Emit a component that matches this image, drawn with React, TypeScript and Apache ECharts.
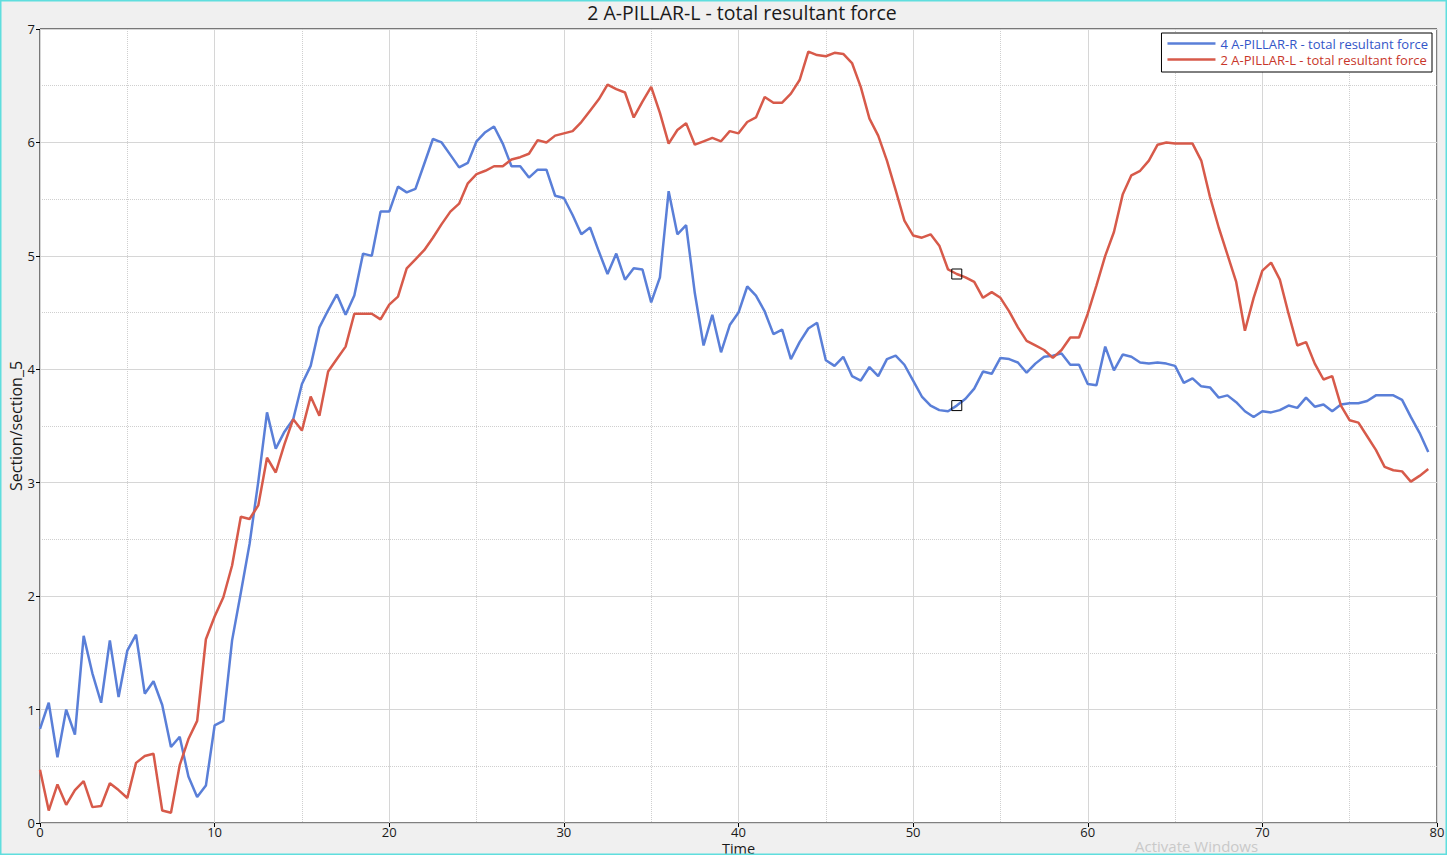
import React, { useEffect, useRef } from "react";
import * as echarts from "echarts";

const TITLE = "2 A-PILLAR-L - total resultant force";
const X_NAME = "Time";
const Y_NAME = "Section/section_5";
const SERIES_NAMES = ["4 A-PILLAR-R - total resultant force", "2 A-PILLAR-L - total resultant force"];
const TIME_STEP = 0.5;
const MARK_TIME = 52.5;
const WATERMARK = "Activate Windows";

const blueValues = [
  0.83, 1.06, 0.58, 1.0, 0.78, 1.65, 1.32, 1.06, 1.61, 1.11,
  1.52, 1.66, 1.14, 1.25, 1.04, 0.67, 0.76, 0.41, 0.23, 0.33,
  0.86, 0.9, 1.61, 2.03, 2.46, 3.01, 3.62, 3.3, 3.45, 3.56,
  3.87, 4.03, 4.37, 4.52, 4.66, 4.48, 4.65, 5.02, 5.0, 5.39,
  5.39, 5.61, 5.56, 5.59, 5.81, 6.03, 6.0, 5.89, 5.78, 5.82,
  6.01, 6.09, 6.14, 5.99, 5.79, 5.79, 5.69, 5.76, 5.76, 5.53,
  5.51, 5.36, 5.19, 5.25, 5.04, 4.84, 5.02, 4.79, 4.89, 4.88,
  4.59, 4.81, 5.57, 5.19, 5.27, 4.67, 4.21, 4.48, 4.15, 4.39,
  4.5, 4.73, 4.65, 4.51, 4.31, 4.35, 4.09, 4.24, 4.36, 4.41,
  4.08, 4.03, 4.11, 3.94, 3.9, 4.02, 3.94, 4.09, 4.12, 4.04,
  3.9, 3.76, 3.68, 3.64, 3.63, 3.68, 3.74, 3.83, 3.98, 3.96,
  4.1, 4.09, 4.06, 3.97, 4.05, 4.11, 4.12, 4.14, 4.04, 4.04,
  3.87, 3.86, 4.2, 3.99, 4.13, 4.11, 4.06, 4.05, 4.06, 4.05,
  4.03, 3.88, 3.92, 3.85, 3.84, 3.75, 3.77, 3.71, 3.63, 3.58,
  3.63, 3.62, 3.64, 3.68, 3.66, 3.75, 3.67, 3.69, 3.63, 3.69,
  3.7, 3.7, 3.72, 3.77, 3.77, 3.77, 3.73, 3.58, 3.44, 3.27,
];

const redValues = [
  0.47, 0.11, 0.34, 0.16, 0.29, 0.37, 0.14, 0.15, 0.35, 0.29,
  0.22, 0.53, 0.59, 0.61, 0.11, 0.09, 0.51, 0.74, 0.9, 1.62,
  1.82, 1.99, 2.27, 2.7, 2.68, 2.8, 3.22, 3.09, 3.34, 3.56,
  3.46, 3.76, 3.59, 3.98, 4.09, 4.2, 4.49, 4.49, 4.49, 4.44,
  4.57, 4.64, 4.89, 4.97, 5.05, 5.16, 5.28, 5.39, 5.46, 5.64,
  5.72, 5.75, 5.79, 5.79, 5.85, 5.87, 5.9, 6.02, 6.0, 6.06,
  6.08, 6.1, 6.18, 6.28, 6.38, 6.51, 6.47, 6.44, 6.22, 6.36,
  6.49, 6.26, 5.99, 6.11, 6.17, 5.98, 6.01, 6.04, 6.01, 6.1,
  6.08, 6.18, 6.22, 6.4, 6.35, 6.35, 6.43, 6.55, 6.8, 6.77,
  6.76, 6.79, 6.78, 6.7, 6.49, 6.21, 6.06, 5.84, 5.58, 5.31,
  5.18, 5.16, 5.19, 5.09, 4.88, 4.84, 4.81, 4.77, 4.63, 4.68,
  4.63, 4.51, 4.37, 4.25, 4.21, 4.17, 4.1, 4.17, 4.28, 4.28,
  4.49, 4.74, 5.0, 5.21, 5.54, 5.71, 5.75, 5.84, 5.98, 6.0,
  5.99, 5.99, 5.99, 5.84, 5.52, 5.25, 5.01, 4.77, 4.34, 4.63,
  4.87, 4.94, 4.79, 4.49, 4.21, 4.24, 4.05, 3.91, 3.94, 3.68,
  3.55, 3.53, 3.41, 3.29, 3.14, 3.11, 3.1, 3.01, 3.06, 3.12,
];

const LINE_COLORS = ["#5a7fd8", "#d75a4a"];
const TEXT_COLORS = ["#3356c8", "#c8362a"];
const FONT = "'Open Sans', 'Noto Sans', sans-serif";

function toPairs(vals: number[]) {
  return vals.map((v, i) => [i * TIME_STEP, v]);
}

function markFor(vals: number[]) {
  const idx = Math.round(MARK_TIME / TIME_STEP);
  return {
    symbol: "rect",
    symbolSize: 10,
    silent: true,
    label: { show: false },
    itemStyle: { color: "rgba(0,0,0,0)", borderColor: "#000", borderWidth: 1 },
    data: [{ coord: [idx * TIME_STEP, vals[idx]] }],
  };
}

export default function App() {
  const ref = useRef<HTMLDivElement>(null);
  useEffect(() => {
    if (!ref.current) return;
    const chart = echarts.init(ref.current, null, { renderer: "svg" });
    const allVals = [blueValues, redValues];
    chart.setOption({
      animation: false,
      backgroundColor: "#f0f0f0",
      textStyle: { fontFamily: FONT },
      title: {
        text: TITLE,
        left: 737,
        top: -3,
        textAlign: "center",
        textStyle: { fontSize: 19.5, fontWeight: "normal", color: "#1a1a1a", fontFamily: FONT },
      },
      grid: {
        left: 40,
        top: 29,
        right: 10,
        bottom: 32,
        outerBoundsMode: "none",
        containLabel: false,
        show: true,
        backgroundColor: "#ffffff",
        borderColor: "#000000",
        borderWidth: 1,
      },
      legend: {
        orient: "vertical",
        right: 15,
        top: 33,
        backgroundColor: "#ffffff",
        borderColor: "#000000",
        borderWidth: 1,
        padding: [4, 4, 6, 6],
        itemGap: 3,
        itemWidth: 48,
        itemHeight: 2.5,
        icon: "rect",
        textStyle: { fontSize: 13, fontFamily: FONT, padding: [0, 0, 0, 0] },
        data: SERIES_NAMES.map((n, i) => ({ name: n, textStyle: { color: TEXT_COLORS[i] } })),
      },
      xAxis: {
        type: "value",
        min: 0,
        max: 80,
        interval: 10,
        name: X_NAME,
        nameLocation: "middle",
        nameGap: 19,
        nameMoveOverlap: false,
        nameTextStyle: { fontSize: 14.5, lineHeight: 13, color: "#1a1a1a", fontFamily: FONT, verticalAlign: "top" },
        axisLine: { show: false },
        axisTick: { show: true, length: 4, lineStyle: { color: "#000" } },
        axisLabel: { fontSize: 13, lineHeight: 12, color: "#1a1a1a", margin: 3, fontFamily: FONT },
        splitLine: { show: true, lineStyle: { color: "#d6d6d6", width: 1 } },
        minorTick: { show: false, splitNumber: 2 },
        minorSplitLine: { show: true, lineStyle: { color: "#cfcfcf", type: "dotted", width: 1 } },
      },
      yAxis: {
        type: "value",
        min: 0,
        max: 7,
        interval: 1,
        name: Y_NAME,
        nameLocation: "middle",
        nameRotate: 90,
        nameGap: 16,
        nameMoveOverlap: false,
        nameTextStyle: { fontSize: 16, color: "#1a1a1a", fontFamily: FONT },
        axisLine: { show: false },
        axisTick: { show: true, length: 4, lineStyle: { color: "#000" } },
        axisLabel: { fontSize: 13, color: "#1a1a1a", margin: 5, fontFamily: FONT },
        splitLine: { show: true, lineStyle: { color: "#d6d6d6", width: 1 } },
        minorTick: { show: false, splitNumber: 2 },
        minorSplitLine: { show: true, lineStyle: { color: "#cfcfcf", type: "dotted", width: 1 } },
      },
      series: SERIES_NAMES.map((n, i) => ({
        name: n,
        type: "line",
        data: toPairs(allVals[i]),
        showSymbol: false,
        symbol: "none",
        lineStyle: { color: LINE_COLORS[i], width: 2.5 },
        itemStyle: { color: LINE_COLORS[i] },
        markPoint: markFor(allVals[i]),
      })),
      graphic: [
        {
          type: "rect",
          silent: true,
          z: 100,
          shape: { x: 0.5, y: 0.5, width: 1446, height: 854 },
          style: { fill: "none", stroke: "#5fdede", lineWidth: 2 },
        },
        {
          type: "text",
          left: 1135,
          top: 838,
          silent: true,
          style: { text: WATERMARK, fill: "#c9c9c9", font: "15px 'Open Sans', sans-serif" },
        },
      ],
    });
    return () => chart.dispose();
  }, []);
  return (
    <div
      ref={ref}
      style={{ position: "fixed", left: 0, top: 0, width: 1447, height: 855 }}
    />
  );
}
